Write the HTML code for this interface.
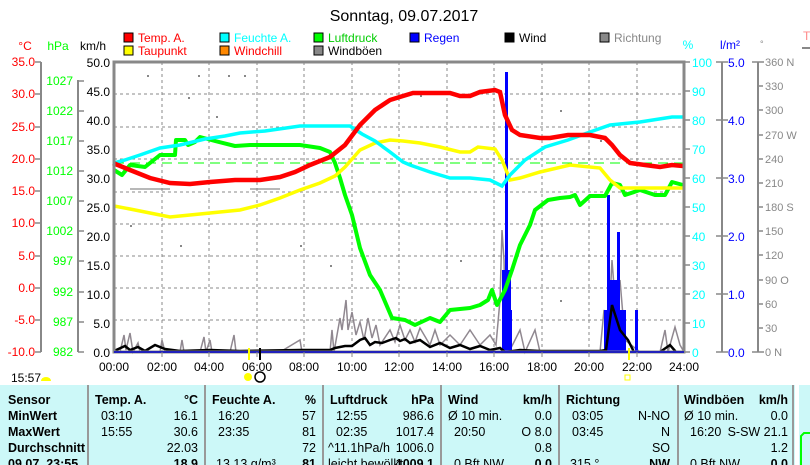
<!DOCTYPE html>
<html><head><meta charset="utf-8"><style>
body{margin:0;width:810px;height:465px;overflow:hidden;background:#fff;font-family:"Liberation Sans",sans-serif}
svg{position:absolute;left:0;top:0;font-size:12px}
text{font-family:"Liberation Sans",sans-serif}
</style></head><body>
<svg width="810" height="465" viewBox="0 0 810 465">
<text x="404" y="21" text-anchor="middle" font-size="16" fill="#000">Sonntag, 09.07.2017</text>
<!-- legend -->
<g font-size="12">
<rect x="124" y="33" width="9" height="9" fill="#f00" stroke="#000"/><text x="138" y="42" fill="#f00">Temp. A.</text>
<rect x="124" y="46" width="9" height="9" fill="#ff0" stroke="#000"/><text x="138" y="55" fill="#f00">Taupunkt</text>
<rect x="220" y="33" width="9" height="9" fill="#0ff" stroke="#000"/><text x="234" y="42" fill="#0ff">Feuchte A.</text>
<rect x="220" y="46" width="9" height="9" fill="#f80" stroke="#000"/><text x="234" y="55" fill="#f00">Windchill</text>
<rect x="314" y="33" width="9" height="9" fill="#0f0" stroke="#000"/><text x="328" y="42" fill="#0c0">Luftdruck</text>
<rect x="314" y="46" width="9" height="9" fill="#888" stroke="#000"/><text x="328" y="55" fill="#000">Windböen</text>
<rect x="410" y="33" width="9" height="9" fill="#00f" stroke="#000"/><text x="424" y="42" fill="#00f">Regen</text>
<rect x="505" y="33" width="9" height="9" fill="#000" stroke="#000"/><text x="519" y="42" fill="#000">Wind</text>
<rect x="600" y="33" width="9" height="9" fill="#888" stroke="#000"/><text x="614" y="42" fill="#888">Richtung</text>
</g>
<!-- unit labels -->
<text x="25" y="50" text-anchor="middle" fill="#f00">°C</text>
<text x="58" y="50" text-anchor="middle" fill="#0f0">hPa</text>
<text x="93" y="50" text-anchor="middle" fill="#000">km/h</text>
<text x="688" y="49" text-anchor="middle" fill="#0ff">%</text>
<text x="730" y="49" text-anchor="middle" fill="#00f">l/m²</text>
<text x="760" y="47" fill="#888" font-size="9">°</text>
<text x="803" y="40" fill="#f88">T</text>
<line x1="802" y1="48" x2="810" y2="48" stroke="#888" stroke-width="2"/>
<!-- left axes -->
<g stroke="#888" stroke-width="2"><line x1="41" y1="62" x2="41" y2="352"/><line x1="78" y1="80" x2="78" y2="352"/>
<line x1="722" y1="62" x2="722" y2="352"/><line x1="758" y1="62" x2="758" y2="352"/></g>
<g fill="#f00" text-anchor="end" font-size="12">
<text x="35" y="66">35.0</text><text x="35" y="98">30.0</text><text x="35" y="131">25.0</text><text x="35" y="163">20.0</text><text x="35" y="195">15.0</text><text x="35" y="227">10.0</text><text x="35" y="260">5.0</text><text x="35" y="292">0.0</text><text x="35" y="324">-5.0</text><text x="35" y="356">-10.0</text></g>
<g stroke="#888" stroke-width="1.5"><path d="M35 62h6M35 94h6M35 127h6M35 159h6M35 191h6M35 223h6M35 256h6M35 288h6M35 320h6M35 352h6"/>
<path d="M78 81h6M78 111h6M78 141h6M78 171h6M78 201h6M78 231h6M78 261h6M78 292h6M78 322h6M78 352h6"/>
<path d="M684 62h6M684 91h6M684 120h6M684 149h6M684 178h6M684 207h6M684 236h6M684 265h6M684 294h6M684 323h6M684 352h6"/>
<path d="M716 62h12M716 120h12M716 178h12M716 236h12M716 294h12M716 352h12"/>
<path d="M752 62h12M758 86h5M758 110h5M758 135h5M758 159h5M758 183h5M758 207h5M758 231h5M758 255h5M758 280h5M758 304h5M758 328h5M752 352h12"/></g>
<g fill="#0f0" text-anchor="end"><text x="73" y="85">1027</text><text x="73" y="115">1022</text><text x="73" y="145">1017</text><text x="73" y="175">1012</text><text x="73" y="205">1007</text><text x="73" y="235">1002</text><text x="73" y="265">997</text><text x="73" y="296">992</text><text x="73" y="326">987</text><text x="73" y="356">982</text></g>
<g fill="#000" text-anchor="end"><text x="110" y="67">50.0</text><text x="110" y="96">45.0</text><text x="110" y="125">40.0</text><text x="110" y="154">35.0</text><text x="110" y="183">30.0</text><text x="110" y="212">25.0</text><text x="110" y="241">20.0</text><text x="110" y="270">15.0</text><text x="110" y="299">10.0</text><text x="110" y="328">5.0</text><text x="110" y="357">0.0</text></g>
<g fill="#0ff"><text x="692" y="67">100</text><text x="692" y="96">90</text><text x="692" y="125">80</text><text x="692" y="154">70</text><text x="692" y="183">60</text><text x="692" y="212">50</text><text x="692" y="241">40</text><text x="692" y="270">30</text><text x="692" y="299">20</text><text x="692" y="328">10</text><text x="692" y="357">0</text></g>
<g fill="#00f"><text x="728" y="67">5.0</text><text x="728" y="125">4.0</text><text x="728" y="183">3.0</text><text x="728" y="241">2.0</text><text x="728" y="299">1.0</text><text x="728" y="357">0.0</text></g>
<g fill="#888" font-size="11"><text x="765" y="66">360 N</text><text x="765" y="90">330</text><text x="765" y="114">300</text><text x="765" y="139">270 W</text><text x="765" y="163">240</text><text x="765" y="187">210</text><text x="765" y="211">180 S</text><text x="765" y="235">150</text><text x="765" y="259">120</text><text x="765" y="284">90 O</text><text x="765" y="308">60</text><text x="765" y="332">30</text><text x="765" y="356">0 N</text></g>
<!-- grid -->
<g stroke="#888" stroke-dasharray="3,3" stroke-width="1">
<path d="M162 62V352M209 62V352M257 62V352M304 62V352M352 62V352M399 62V352M447 62V352M494 62V352M542 62V352M589 62V352M637 62V352"/>
<path d="M114 94H684M114 127H684M114 159H684M114 192H684M114 224H684M114 256H684M114 288H684M114 320H684"/></g>
<line x1="114" y1="163" x2="684" y2="163" stroke="#0f0" stroke-dasharray="10,6"/>
<!-- direction dots -->
<g fill="#888"><rect x="147" y="75" width="2" height="2"/><rect x="198" y="75" width="2" height="2"/><rect x="228" y="75" width="2" height="2"/><rect x="244" y="75" width="2" height="2"/><rect x="188" y="97" width="2" height="2"/><rect x="216" y="116" width="2" height="2"/><rect x="130" y="188" width="40" height="2" opacity="0.6"/><rect x="250" y="188" width="30" height="2" opacity="0.6"/><rect x="130" y="225" width="2" height="2"/><rect x="180" y="245" width="2" height="2"/><rect x="300" y="245" width="2" height="2"/><rect x="330" y="265" width="2" height="2"/><rect x="420" y="95" width="2" height="2"/><rect x="560" y="110" width="2" height="2"/><rect x="600" y="140" width="2" height="2"/><rect x="640" y="190" width="2" height="2"/><rect x="460" y="260" width="2" height="2"/><rect x="560" y="300" width="2" height="2"/></g>
<!-- gusts -->
<polyline fill="none" stroke="#908890" stroke-width="1.5" points="120,352 124,335 126,350 130,333 133,352 138,343 140,352 160,352 162,340 165,352 180,352 182,340 184,352 200,352 204,337 206,352 210,340 212,352 230,352 234,335 236,352 260,352 280,352 300,340 302,352 330,352 332,330 334,352 340,318 342,330 346,300 348,330 352,312 356,335 360,322 364,340 368,318 372,338 376,325 380,345 390,330 395,342 400,325 405,340 410,330 415,342 420,328 430,345 435,330 440,345 450,335 460,345 470,330 480,345 490,335 496,345 500,300 502,230 504,260 506,352 510,350 520,330 525,352 535,330 540,352 560,352 600,352 604,310 608,340 612,260 615,300 620,280 625,340 640,352 660,352 665,330 668,352 675,327 680,345 684,352"/>
<!-- rain -->
<g fill="#00f"><rect x="502" y="270" width="4" height="82"/><rect x="505" y="72" width="3" height="280"/><rect x="508" y="270" width="3" height="82"/><rect x="510" y="310" width="2" height="42"/>
<rect x="604" y="310" width="4" height="42"/><rect x="607" y="195" width="3" height="157"/><rect x="610" y="280" width="7" height="72"/><rect x="617" y="232" width="3" height="120"/><rect x="620" y="310" width="6" height="42"/><rect x="635" y="310" width="3" height="42"/></g>
<!-- wind -->
<polyline fill="none" stroke="#000" stroke-width="2.5" points="114,351 125,346 130,350 138,347 145,351 155,345 165,349 180,351 210,350 240,351 300,350 330,350 335,348 345,346 352,346 360,340 365,338 370,345 375,342 382,343 390,340 396,338 400,341 405,339 410,343 420,340 430,347 440,343 450,348 460,345 470,349 480,346 490,350 500,348 505,352 520,350 540,351 600,351 606,350 612,305 620,330 628,340 634,352 660,352 670,345 676,352 684,352"/>
<!-- pressure -->
<polyline fill="none" stroke="#0f0" stroke-width="4" stroke-linejoin="round" points="114,170 122,175 130,165 145,167 160,155 175,155 176,140 185,140 188,145 195,142 200,137 215,141 235,146 250,145 280,145 300,145 320,148 330,152 335,163 340,178 345,195 352,215 360,248 370,275 380,290 392,318 405,320 415,325 430,318 440,322 450,310 470,308 480,305 488,300 492,290 497,305 505,290 512,270 520,245 530,225 535,210 548,200 560,198 570,197 575,195 580,205 590,196 605,196 612,183 620,185 625,195 640,190 655,195 665,195 672,182 683,185"/>
<!-- dewpoint -->
<polyline fill="none" stroke="#ff0" stroke-width="3.5" points="114,206 130,209 150,213 170,217 190,215 210,213 240,210 260,205 280,198 300,190 320,183 335,176 345,167 360,150 375,143 390,140 403,141 420,143 440,147 460,152 470,152 478,147 495,149 502,160 510,180 520,178 540,172 570,165 600,168 610,180 620,188 650,188 683,188"/>
<!-- humidity -->
<polyline fill="none" stroke="#0ff" stroke-width="3.5" points="114,163 125,160 140,155 160,148 180,145 205,139 225,136 240,133 265,131 300,126 350,126 362,134 375,141 390,152 403,162 410,165 430,172 450,178 470,178 490,180 502,186 510,175 525,160 545,147 568,140 590,132 610,125 640,122 672,117 683,117"/>
<!-- temp -->
<polyline fill="none" stroke="#f00" stroke-width="4.5" points="113,163 130,170 150,178 170,183 190,184 210,182 235,180 260,180 280,177 295,172 310,165 330,157 345,145 360,125 375,110 390,100 403,96 413,93 450,93 460,96 470,96 480,92 495,90 500,92 505,115 512,130 520,135 540,138 550,138 568,135 590,135 605,138 612,145 620,155 630,163 645,165 660,167 672,165 683,166"/>
<!-- frame -->
<rect x="114" y="62" width="570" height="290" fill="none" stroke="#888" stroke-width="3"/>
<line x1="114" y1="352" x2="684" y2="352" stroke="#00c" stroke-width="1.5"/>
<g stroke="#888" stroke-width="1"><path d="M162 352v5M209 352v5M257 352v5M304 352v5M352 352v5M399 352v5M447 352v5M494 352v5M542 352v5M589 352v5M637 352v5"/></g>
<line x1="249" y1="348" x2="249" y2="360" stroke="#ff0" stroke-width="2"/>
<line x1="260" y1="348" x2="260" y2="360" stroke="#000" stroke-width="2"/>
<line x1="629" y1="348" x2="629" y2="360" stroke="#ff0" stroke-width="2"/>
<g fill="#000" text-anchor="middle"><text x="114" y="371">00:00</text><text x="162" y="371">02:00</text><text x="209" y="371">04:00</text><text x="257" y="371">06:00</text><text x="304" y="371">08:00</text><text x="352" y="371">10:00</text><text x="399" y="371">12:00</text><text x="447" y="371">14:00</text><text x="494" y="371">16:00</text><text x="542" y="371">18:00</text><text x="589" y="371">20:00</text><text x="637" y="371">22:00</text><text x="684" y="371">24:00</text></g>
<text x="11" y="382" fill="#000">15:57</text>
<path d="M41 381a5 4 0 0 1 10 0z" fill="#ff0"/>
<circle cx="248" cy="377" r="4" fill="#ff0"/>
<circle cx="260" cy="377" r="5" fill="none" stroke="#000" stroke-width="1.5"/>
<rect x="625" y="375" width="5" height="5" fill="none" stroke="#ff0"/>
<!-- table -->
<rect x="0" y="385" width="795" height="80" fill="#ccf8f8"/>
<g stroke="#999" stroke-width="2"><path d="M88 385V465M205 385V465M323 385V465M441 385V465M559 385V465M678 385V465M793 385V465"/></g>
<rect x="799" y="385" width="11" height="80" fill="#ccf8f8"/>
<polyline fill="none" stroke="#0f0" stroke-width="2" points="801,465 801,436 804,433 810,433"/>
<g font-size="12.5" fill="#000">
<g font-weight="bold"><text x="8" y="404">Sensor</text><text x="8" y="420">MinWert</text><text x="8" y="436">MaxWert</text><text x="8" y="452">Durchschnitt</text><text x="8" y="468">09.07. 23:55</text>
<text x="95" y="404">Temp. A.</text><text x="198" y="404" text-anchor="end">°C</text>
<text x="212" y="404">Feuchte A.</text><text x="316" y="404" text-anchor="end">%</text>
<text x="330" y="404">Luftdruck</text><text x="434" y="404" text-anchor="end">hPa</text>
<text x="448" y="404">Wind</text><text x="552" y="404" text-anchor="end">km/h</text>
<text x="566" y="404">Richtung</text>
<text x="684" y="404">Windböen</text><text x="788" y="404" text-anchor="end">km/h</text>
<text x="198" y="468" text-anchor="end">18.9</text><text x="316" y="468" text-anchor="end">81</text><text x="434" y="468" text-anchor="end">1009.1</text><text x="552" y="468" text-anchor="end">0.0</text><text x="670" y="468" text-anchor="end">NW</text><text x="788" y="468" text-anchor="end">0.0</text></g>
<text x="101" y="420">03:10</text><text x="198" y="420" text-anchor="end">16.1</text>
<text x="101" y="436">15:55</text><text x="198" y="436" text-anchor="end">30.6</text>
<text x="198" y="452" text-anchor="end">22.03</text>
<text x="218" y="420">16:20</text><text x="316" y="420" text-anchor="end">57</text>
<text x="218" y="436">23:35</text><text x="316" y="436" text-anchor="end">81</text>
<text x="316" y="452" text-anchor="end">72</text><text x="216" y="468">13.13 g/m³</text>
<text x="336" y="420">12:55</text><text x="434" y="420" text-anchor="end">986.6</text>
<text x="336" y="436">02:35</text><text x="434" y="436" text-anchor="end">1017.4</text>
<text x="328" y="452">^11.1hPa/h</text><text x="434" y="452" text-anchor="end">1006.0</text><text x="328" y="468">leicht bewölkt</text>
<text x="448" y="420">Ø 10 min.</text><text x="552" y="420" text-anchor="end">0.0</text>
<text x="454" y="436">20:50</text><text x="552" y="436" text-anchor="end">O 8.0</text>
<text x="552" y="452" text-anchor="end">0.8</text><text x="454" y="468">0 Bft NW</text>
<text x="572" y="420">03:05</text><text x="670" y="420" text-anchor="end">N-NO</text>
<text x="572" y="436">03:45</text><text x="670" y="436" text-anchor="end">N</text>
<text x="670" y="452" text-anchor="end">SO</text><text x="570" y="468">315 °</text>
<text x="684" y="420">Ø 10 min.</text><text x="788" y="420" text-anchor="end">0.0</text>
<text x="690" y="436">16:20</text><text x="788" y="436" text-anchor="end">S-SW 21.1</text>
<text x="788" y="452" text-anchor="end">1.2</text><text x="690" y="468">0 Bft NW</text>
</g>
</svg>
</body></html>
